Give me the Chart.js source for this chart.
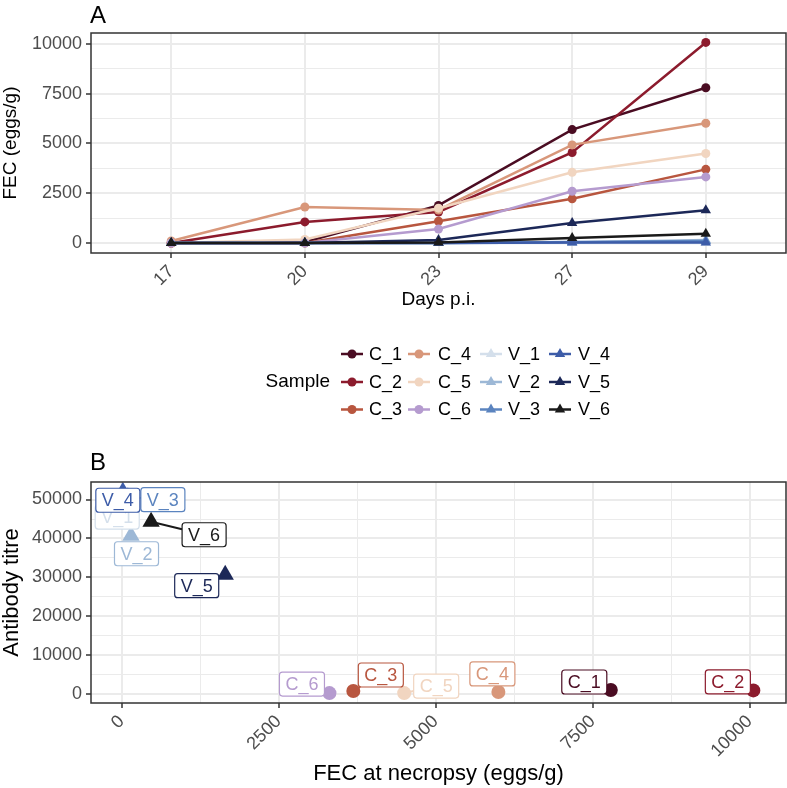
<!DOCTYPE html>
<html>
<head>
<meta charset="utf-8">
<script src="https://cdn.jsdelivr.net/npm/chart.js@4.4.1/dist/chart.umd.min.js"></script>
<style>
  html, body { margin:0; padding:0; background:#fff; }
  #wrap { position:relative; width:787px; height:788px; }
  #fecChart { position:absolute; left:0; top:0; }
  #titreChart { position:absolute; left:0; top:440px; }
</style>
</head>
<body>
<div id="wrap">
  <canvas id="fecChart" width="787" height="430"></canvas>
  <canvas id="titreChart" width="787" height="348"></canvas>
</div>
<script>
/* ---------- DATA ---------- */

const days = ['17', '20', '23', '27', '29'];
const samples = ['C_1', 'C_2', 'C_3', 'C_4', 'C_5', 'C_6', 'V_1', 'V_2', 'V_3', 'V_4', 'V_5', 'V_6'];

// FEC (eggs/g) per sample, one value per day
const fecC1 = [0, 50, 1890, 5700, 7800];
const fecC2 = [0, 1060, 1560, 4550, 10080];
const fecC3 = [0, 0, 1090, 2220, 3700];
const fecC4 = [100, 1810, 1660, 4930, 6020];
const fecC5 = [0, 180, 1750, 3550, 4500];
const fecC6 = [0, 0, 700, 2600, 3320];
const fecV1 = [0, 0, 0, 0, 0];
const fecV2 = [0, 0, 0, 20, 150];
const fecV3 = [0, 0, 0, 50, 100];
const fecV4 = [0, 0, 0, 30, 30];
const fecV5 = [0, 0, 150, 1000, 1650];
const fecV6 = [0, 0, 30, 250, 470];
const fecBySample = [fecC1, fecC2, fecC3, fecC4, fecC5, fecC6, fecV1, fecV2, fecV3, fecV4, fecV5, fecV6];

// panel B
const fecNecropsy = [7790, 10060, 3690, 6000, 4500, 3310, 10, 150, 100, 20, 1650, 470];
const antibodyTitre = [1100, 1000, 850, 600, 300, 300, 45500, 40700, 50600, 52000, 30700, 44300];

// tick labels
const fecTicks = [0, 2500, 5000, 7500, 10000];
const necropsyTicks = [0, 2500, 5000, 7500, 10000];
const titreTicks = [0, 10000, 20000, 30000, 40000, 50000];

/* ---------- STYLE ---------- */

const colours = ['#4a0c22', '#8c1b2d', '#b8563f', '#d8977a', '#f1d5c0', '#b59bcf',
                 '#d4dfeb', '#9db8d6', '#5b84bf', '#3d5ca8', '#1c2858', '#1a1a1a'];
const isTri = s => s[0] === 'V';

// label offsets (px) from each point, panel B
const labelNudge = {
  C_1: [-26.5, -8], C_2: [-25.5, -8.5], C_3: [27.5, -16], C_4: [-6, -18], C_5: [32, -7], C_6: [-27.5, -9],
  V_1: [-5, 0], V_2: [5.5, 18], V_3: [35, 2.5], V_4: [-5, 8.5], V_5: [-28.5, 11], V_6: [53, 13]
};

const FONT = "'Liberation Sans', Arial, Helvetica, sans-serif";
Chart.defaults.font.family = FONT;
Chart.defaults.color = '#4d4d4d';
Chart.defaults.animation = false;

function withMinor(major) {
  const step = (major[1] - major[0]) / 2;
  const out = [];
  for (let v = major[0]; v <= major[major.length - 1] + 1e-9; v += step) out.push({value: v});
  return out;
}

function gridFor(major, minorToo) {
  const isMajor = v => major.indexOf(v) >= 0;
  return {
    color: c => '#ebebeb',
    lineWidth: c => (c.tick && isMajor(c.tick.value)) ? 2 : (minorToo ? 1 : 0),
    tickColor: c => (c.tick && isMajor(c.tick.value)) ? '#333333' : 'rgba(0,0,0,0)',
    tickWidth: 1.5,
    tickLength: 5,
    drawTicks: true
  };
}

// fixed axis sizes, no extra padding from long labels
function fixX(h) {
  return ax => { ax.height = h; ax.paddingLeft = 0; ax.paddingRight = 0; };
}
function fixY(w) {
  return ax => { ax.width = w; ax.paddingTop = 0; ax.paddingBottom = 0; };
}

function drawMarker(ctx, x, y, style, r, col) {
  ctx.fillStyle = col;
  ctx.beginPath();
  if (style === 'triangle') {
    for (let k = 0; k < 3; k++) {
      const a = k * 2 * Math.PI / 3;
      const px = x + Math.sin(a) * r, py = y - Math.cos(a) * r;
      if (k === 0) ctx.moveTo(px, py); else ctx.lineTo(px, py);
    }
    ctx.closePath();
  } else {
    ctx.arc(x, y, r, 0, Math.PI * 2);
  }
  ctx.fill();
}

const panelBox = {
  id: 'panelBox',
  afterDatasetsDraw(chart) {
    const a = chart.chartArea, ctx = chart.ctx;
    ctx.save();
    ctx.strokeStyle = '#333333';
    ctx.lineWidth = 1.5;
    ctx.strokeRect(a.left, a.top, a.right - a.left, a.bottom - a.top);
    ctx.restore();
  },
  afterDraw(chart, args, opts) {
    const ctx = chart.ctx;
    ctx.save();
    ctx.fillStyle = '#000';
    ctx.font = '24px ' + FONT;
    ctx.textBaseline = 'alphabetic';
    ctx.fillText(opts.tag, chart.chartArea.left - 1, opts.tagY);
    ctx.restore();
  }
};

/* ---------- PANEL A: FEC OVER TIME ---------- */

const sampleLegend = {
  id: 'sampleLegend',
  afterDraw(chart) {
    const ctx = chart.ctx;
    const rowY = [354, 382, 409.5];
    const keyX = [352, 419, 491, 560];
    const textX = [369, 438, 508, 578];
    ctx.save();
    ctx.fillStyle = '#000';
    ctx.font = '19px ' + FONT;
    ctx.textAlign = 'right';
    ctx.textBaseline = 'middle';
    ctx.fillText('Sample', 330, rowY[1]);
    ctx.textAlign = 'left';
    ctx.font = '18px ' + FONT;
    samples.forEach((s, i) => {
      const col = Math.floor(i / 3), row = i % 3;
      const x = keyX[col], y = rowY[row];
      ctx.strokeStyle = colours[i];
      ctx.lineWidth = 2.5;
      ctx.beginPath();
      ctx.moveTo(x - 11, y);
      ctx.lineTo(x + 11, y);
      ctx.stroke();
      drawMarker(ctx, x, y, isTri(s) ? 'triangle' : 'circle', isTri(s) ? 6 : 4.5, colours[i]);
      ctx.fillStyle = '#000';
      ctx.fillText(s, textX[col], y + 1);
    });
    ctx.restore();
  }
};

try {
  new Chart(document.getElementById('fecChart'), {
    type: 'line',
    data: {
      datasets: samples.map((s, i) => ({
        label: s,
        data: fecBySample[i].map((v, j) => ({x: j, y: v})),
        borderColor: colours[i],
        backgroundColor: colours[i],
        borderWidth: 2.5,
        pointStyle: isTri(s) ? 'triangle' : 'circle',
        pointRadius: isTri(s) ? 6 : 4.5,
        pointBorderWidth: 0,
        tension: 0,
        order: samples.length - i
      }))
    },
    options: {
      responsive: false,
      layout: {autoPadding: false, padding: {left: 0, right: 1, top: 33, bottom: 119}},
      plugins: {legend: {display: false}, tooltip: {enabled: false},
                panelBox: {tag: 'A', tagY: 22.5}},
      scales: {
        x: {
          type: 'linear', min: -0.6, max: 4.6, bounds: 'data',
          afterBuildTicks: ax => { ax.ticks = days.map((d, j) => ({value: j})); },
          afterFit: fixX(58),
          ticks: {callback: v => days[v], autoSkip: false, minRotation: 45, maxRotation: 45,
                  padding: 3, font: {size: 18}, color: '#4d4d4d'},
          grid: gridFor([0, 1, 2, 3, 4], false),
          border: {display: false},
          title: {display: true, text: 'Days p.i.', color: '#000', font: {size: 19}, padding: 0}
        },
        y: {
          type: 'linear', min: -503, max: 10553, bounds: 'data',
          afterBuildTicks: ax => { ax.ticks = withMinor(fecTicks); },
          afterFit: fixY(91),
          ticks: {callback: v => fecTicks.indexOf(v) >= 0 ? String(v) : '', autoSkip: false,
                  padding: 4, font: {size: 18}, color: '#4d4d4d'},
          grid: gridFor(fecTicks, true),
          border: {display: false},
          title: {display: true, text: 'FEC (eggs/g)', color: '#000', font: {size: 19, lineHeight: 1.1}, padding: 0}
        }
      }
    },
    plugins: [panelBox, sampleLegend]
  });
} catch (e) {
  console.error('Error initializing FEC chart:', e);
}

/* ---------- PANEL B: TITRE VS FEC ---------- */

const repelLabels = {
  id: 'repelLabels',
  afterDatasetsDraw(chart) {
    const ctx = chart.ctx;
    ctx.save();
    ctx.font = '18px ' + FONT;
    const boxes = chart.data.datasets.map((ds, i) => {
      const pt = chart.getDatasetMeta(i).data[0];
      const nud = labelNudge[ds.label];
      const w = ctx.measureText(ds.label).width + 12, h = 24;
      return {px: pt.x, py: pt.y, cx: pt.x + nud[0], cy: pt.y + nud[1], w, h, col: colours[i], text: ds.label};
    });
    // segments
    boxes.forEach(b => {
      const dx = b.cx - b.px, dy = b.cy - b.py;
      if (Math.hypot(dx, dy) < 30) return;
      const s = Math.min(b.w / 2 / Math.abs(dx || 1e-6), b.h / 2 / Math.abs(dy || 1e-6));
      ctx.strokeStyle = b.col;
      ctx.lineWidth = 2;
      ctx.beginPath();
      ctx.moveTo(b.px, b.py);
      ctx.lineTo(b.cx - dx * s, b.cy - dy * s);
      ctx.stroke();
    });
    // label boxes
    boxes.forEach(b => {
      ctx.beginPath();
      ctx.roundRect(b.cx - b.w / 2, b.cy - b.h / 2, b.w, b.h, 3);
      ctx.fillStyle = '#fff';
      ctx.fill();
      ctx.strokeStyle = b.col;
      ctx.lineWidth = 1.2;
      ctx.stroke();
      ctx.fillStyle = b.col;
      ctx.textAlign = 'center';
      ctx.textBaseline = 'middle';
      ctx.fillText(b.text, b.cx, b.cy + 1);
    });
    ctx.restore();
  }
};

try {
  new Chart(document.getElementById('titreChart'), {
    type: 'scatter',
    data: {
      datasets: samples.map((s, i) => ({
        label: s,
        data: [{x: fecNecropsy[i], y: antibodyTitre[i]}],
        backgroundColor: colours[i],
        borderColor: colours[i],
        pointStyle: isTri(s) ? 'triangle' : 'circle',
        pointRadius: isTri(s) ? 10 : 7,
        pointBorderWidth: 0,
        order: samples.length - i
      }))
    },
    options: {
      responsive: false,
      layout: {autoPadding: false, padding: {left: 0, right: 1, top: 42, bottom: 0.5}},
      plugins: {legend: {display: false}, tooltip: {enabled: false},
                panelBox: {tag: 'B', tagY: 30}},
      scales: {
        x: {
          type: 'linear', min: -487, max: 10580, bounds: 'data',
          afterBuildTicks: ax => { ax.ticks = withMinor(necropsyTicks); },
          afterFit: fixX(84.5),
          ticks: {callback: v => necropsyTicks.indexOf(v) >= 0 ? String(v) : '', autoSkip: false,
                  minRotation: 45, maxRotation: 45, padding: 3, font: {size: 18}, color: '#4d4d4d'},
          grid: gridFor(necropsyTicks, true),
          border: {display: false},
          title: {display: true, text: 'FEC at necropsy (eggs/g)', color: '#000', font: {size: 22}, padding: 0}
        },
        y: {
          type: 'linear', min: -2236, max: 54500, bounds: 'data',
          afterBuildTicks: ax => { ax.ticks = withMinor(titreTicks); },
          afterFit: fixY(91),
          ticks: {callback: v => titreTicks.indexOf(v) >= 0 ? String(v) : '', autoSkip: false,
                  padding: 4, font: {size: 18}, color: '#4d4d4d'},
          grid: gridFor(titreTicks, true),
          border: {display: false},
          title: {display: true, text: 'Antibody titre', color: '#000', font: {size: 22, lineHeight: 1.1}, padding: 0}
        }
      }
    },
    plugins: [panelBox, repelLabels]
  });
} catch (e) {
  console.error('Error initializing titre chart:', e);
}
</script>
</body>
</html>
